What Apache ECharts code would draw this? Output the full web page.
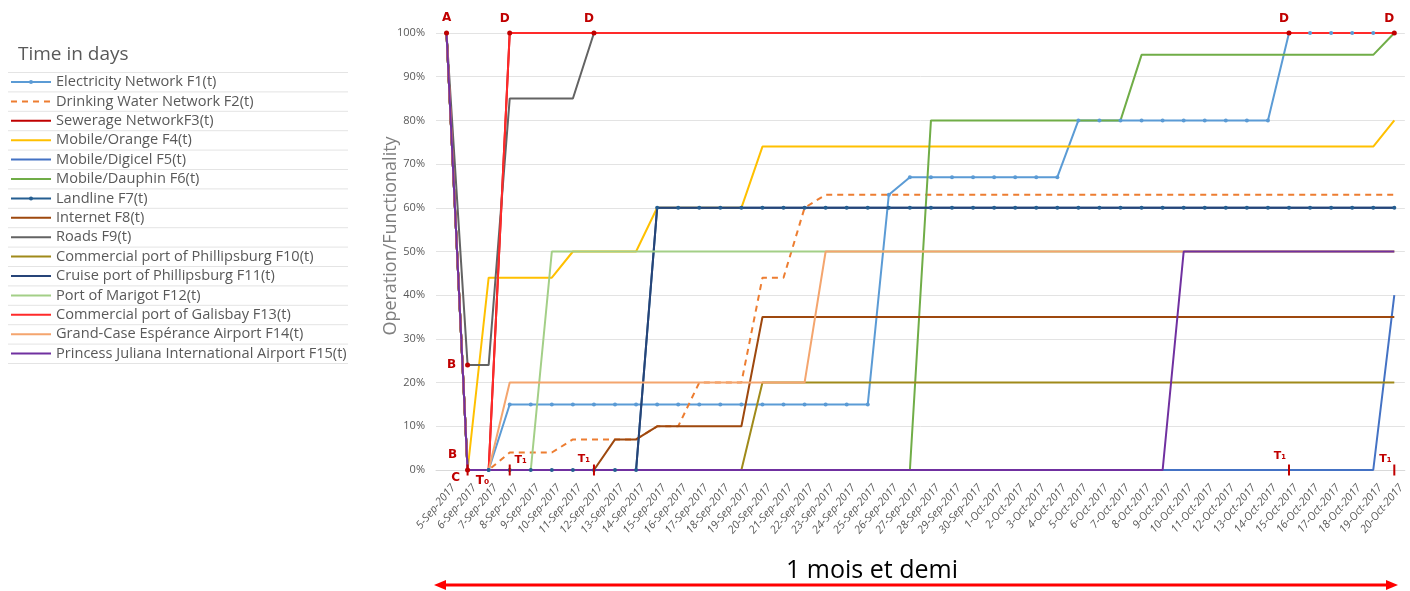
<!DOCTYPE html>
<html>
<head>
<meta charset="utf-8">
<script src="https://cdn.jsdelivr.net/npm/echarts@6/dist/echarts.min.js"></script>
<style>
html,body{margin:0;padding:0;background:#fff;}
#chart{width:1410px;height:591px;}
</style>
</head>
<body>
<div id="chart"></div>
<script>
const dates = ['5-Sep-2017','6-Sep-2017','7-Sep-2017','8-Sep-2017','9-Sep-2017','10-Sep-2017','11-Sep-2017','12-Sep-2017','13-Sep-2017','14-Sep-2017','15-Sep-2017','16-Sep-2017','17-Sep-2017','18-Sep-2017','19-Sep-2017','20-Sep-2017','21-Sep-2017','22-Sep-2017','23-Sep-2017','24-Sep-2017','25-Sep-2017','26-Sep-2017','27-Sep-2017','28-Sep-2017','29-Sep-2017','30-Sep-2017','1-Oct-2017','2-Oct-2017','3-Oct-2017','4-Oct-2017','5-Oct-2017','6-Oct-2017','7-Oct-2017','8-Oct-2017','9-Oct-2017','10-Oct-2017','11-Oct-2017','12-Oct-2017','13-Oct-2017','14-Oct-2017','15-Oct-2017','16-Oct-2017','17-Oct-2017','18-Oct-2017','19-Oct-2017','20-Oct-2017'];

const yTicks = [0,10,20,30,40,50,60,70,80,90,100];

const F1  = [100,0,0,15,15,15,15,15,15,15,15,15,15,15,15,15,15,15,15,15,15,63,67,67,67,67,67,67,67,67,80,80,80,80,80,80,80,80,80,80,100,100,100,100,100,100];
const F2  = [100,0,0,4,4,4,7,7,7,7,10,10,20,20,20,44,44,60,63,63,63,63,63,63,63,63,63,63,63,63,63,63,63,63,63,63,63,63,63,63,63,63,63,63,63,63];
const F3  = [100,0,0,100,100,100,100,100,100,100,100,100,100,100,100,100,100,100,100,100,100,100,100,100,100,100,100,100,100,100,100,100,100,100,100,100,100,100,100,100,100,100,100,100,100,100];
const F4  = [100,0,44,44,44,44,50,50,50,50,60,60,60,60,60,74,74,74,74,74,74,74,74,74,74,74,74,74,74,74,74,74,74,74,74,74,74,74,74,74,74,74,74,74,74,80];
const F5  = [100,0,0,0,0,0,0,0,0,0,0,0,0,0,0,0,0,0,0,0,0,0,0,0,0,0,0,0,0,0,0,0,0,0,0,0,0,0,0,0,0,0,0,0,0,40];
const F6  = [100,0,0,0,0,0,0,0,0,0,0,0,0,0,0,0,0,0,0,0,0,0,0,80,80,80,80,80,80,80,80,80,80,95,95,95,95,95,95,95,95,95,95,95,95,100];
const F7  = [100,0,0,0,0,0,0,0,0,0,60,60,60,60,60,60,60,60,60,60,60,60,60,60,60,60,60,60,60,60,60,60,60,60,60,60,60,60,60,60,60,60,60,60,60,60];
const F8  = [100,0,0,0,0,0,0,0,7,7,10,10,10,10,10,35,35,35,35,35,35,35,35,35,35,35,35,35,35,35,35,35,35,35,35,35,35,35,35,35,35,35,35,35,35,35];
const F9  = [100,24,24,85,85,85,85,100,100,100,100,100,100,100,100,100,100,100,100,100,100,100,100,100,100,100,100,100,100,100,100,100,100,100,100,100,100,100,100,100,100,100,100,100,100,100];
const F10 = [100,0,0,0,0,0,0,0,0,0,0,0,0,0,0,20,20,20,20,20,20,20,20,20,20,20,20,20,20,20,20,20,20,20,20,20,20,20,20,20,20,20,20,20,20,20];
const F11 = [100,0,0,0,0,0,0,0,0,0,60,60,60,60,60,60,60,60,60,60,60,60,60,60,60,60,60,60,60,60,60,60,60,60,60,60,60,60,60,60,60,60,60,60,60,60];
const F12 = [100,0,0,0,0,50,50,50,50,50,50,50,50,50,50,50,50,50,50,50,50,50,50,50,50,50,50,50,50,50,50,50,50,50,50,50,50,50,50,50,50,50,50,50,50,50];
const F13 = [100,0,0,100,100,100,100,100,100,100,100,100,100,100,100,100,100,100,100,100,100,100,100,100,100,100,100,100,100,100,100,100,100,100,100,100,100,100,100,100,100,100,100,100,100,100];
const F14 = [100,0,0,20,20,20,20,20,20,20,20,20,20,20,20,20,20,20,50,50,50,50,50,50,50,50,50,50,50,50,50,50,50,50,50,50,50,50,50,50,50,50,50,50,50,50];
const F15 = [100,0,0,0,0,0,0,0,0,0,0,0,0,0,0,0,0,0,0,0,0,0,0,0,0,0,0,0,0,0,0,0,0,0,0,50,50,50,50,50,50,50,50,50,50,50];

const seriesNames = ['Electricity Network F1(t)','Drinking Water Network F2(t)','Sewerage NetworkF3(t)','Mobile/Orange F4(t)','Mobile/Digicel F5(t)','Mobile/Dauphin F6(t)','Landline F7(t)','Internet F8(t)','Roads F9(t)','Commercial port of Phillipsburg F10(t)','Cruise port of Phillipsburg F11(t)','Port of Marigot F12(t)','Commercial port of Galisbay F13(t)','Grand-Case Espérance Airport F14(t)','Princess Juliana International Airport F15(t)'];
const seriesValues = [F1,F2,F3,F4,F5,F6,F7,F8,F9,F10,F11,F12,F13,F14,F15];

// annotation points (letters / T marks)
const dotMarks = [
  {text:'A', date:'5-Sep-2017',  value:100},
  {text:'D', date:'8-Sep-2017',  value:100},
  {text:'D', date:'12-Sep-2017', value:100},
  {text:'D', date:'15-Oct-2017', value:100},
  {text:'D', date:'20-Oct-2017', value:100},
  {text:'B', date:'6-Sep-2017',  value:24},
  {text:'C', date:'6-Sep-2017',  value:0}
];
const extraLabels = [
  {text:'B', date:'6-Sep-2017', value:0},
  {text:'T₀', date:'6-Sep-2017', value:0}
];
const tMarks = [
  {text:'', date:'6-Sep-2017', value:0},
  {text:'T₁', date:'8-Sep-2017', value:0},
  {text:'T₁', date:'12-Sep-2017', value:0},
  {text:'T₁', date:'15-Oct-2017', value:0},
  {text:'T₁', date:'20-Oct-2017', value:0}
];

const colors = ['#5B9BD5','#ED7D31','#C00000','#FFC000','#4472C4','#70AD47','#255E91','#9E480E','#636363','#A08A1A','#264478','#A3CF87','#FF2A2A','#F4A56E','#7030A0'];

const RED = '#C00000';
const labelStyle = {show:true, color:RED, fontSize:12, fontWeight:'bold', fontFamily:'DejaVu Sans'};

const dotOffsets = {'A':[0,-15],'D':[-5,-14],'B':[-16,0],'C':[-12,8]};
const markData = [];
dotMarks.forEach(function(m){
  markData.push({coord:[m.date,m.value], symbol:'circle', symbolSize:5,
    itemStyle:{color:RED},
    label:Object.assign({}, labelStyle, {formatter:m.text, position:'inside', offset:dotOffsets[m.text]})});
});
const extraOffsets = [[-15,-15],[15,11]];
extraLabels.forEach(function(m,i){
  markData.push({coord:[m.date,m.value], symbol:'circle', symbolSize:0,
    label:Object.assign({}, labelStyle, {formatter:m.text, position:'inside', offset:extraOffsets[i]})});
});
const tOffsets = [[0,0],[11,-10],[-10,-11],[-9,-14],[-9,-11]];
tMarks.forEach(function(m,i){
  markData.push({coord:[m.date,m.value], symbol:'rect', symbolSize:[2,11],
    itemStyle:{color:RED},
    label:Object.assign({}, labelStyle, {formatter:m.text, position:'inside', offset:tOffsets[i], fontSize:11})});
});

const series = seriesNames.map(function(name,i){
  const withMarker = (i===0 || i===6);
  const s = {
    name:name, type:'line', data:seriesValues[i],
    symbol: withMarker ? 'circle' : 'none',
    symbolSize: 4, showSymbol: withMarker,
    lineStyle:{width:2, color:colors[i], type: i===1 ? [6,5] : 'solid'},
    itemStyle:{color:colors[i]},
    animation:false
  };
  if (i===14) {
    s.markPoint = {data:markData, animation:false, z:10};
  }
  return s;
});

const legendData = seriesNames.map(function(name,i){
  const withMarker = (i===0 || i===6);
  return withMarker ? {name:name} : {name:name, itemStyle:{opacity:0}};
});

const graphics = [];
for (let k=0;k<16;k++){
  graphics.push({type:'line', shape:{x1:8,y1:72.5+19.4*k,x2:348,y2:72.5+19.4*k}, style:{stroke:'#E4E4E4',lineWidth:1}, silent:true});
}
// y-axis title
graphics.push({type:'text', x:391, y:236, rotation:Math.PI/2, style:{text:'Operation/Functionality', fill:'#7F7F7F', font:'18px "Open Sans"', align:'center', verticalAlign:'middle'}});
// bottom arrow
graphics.push({type:'line', shape:{x1:444,y1:585,x2:1388,y2:585}, style:{stroke:'#FF0000',lineWidth:3}});
graphics.push({type:'polygon', shape:{points:[[434,585],[446,580],[446,590]]}, style:{fill:'#FF0000'}});
graphics.push({type:'polygon', shape:{points:[[1398,585],[1386,580],[1386,590]]}, style:{fill:'#FF0000'}});
graphics.push({type:'text', x:872, y:571, style:{text:'1 mois et demi', fill:'#000', font:'25px "Open Sans"', align:'center', verticalAlign:'middle'}});

const chart = echarts.init(document.getElementById('chart'), null, {renderer:'canvas'});
chart.setOption({
  animation:false,
  backgroundColor:'#fff',
  color:colors,
  title:{text:'Time in days', left:18, top:45, padding:0, textStyle:{fontSize:19, fontWeight:'normal', color:'#595959', fontFamily:'Open Sans'}},
  legend:{orient:'vertical', left:10, top:74, padding:0, itemWidth:40, itemHeight:5, itemGap:3.4,
    textStyle:{fontSize:14.6, lineHeight:16, color:'#595959', fontFamily:'Open Sans'},
    data:legendData},
  grid:{left:436, right:3, top:33, bottom:121, containLabel:false},
  xAxis:{type:'category', data:dates, boundaryGap:true,
    axisLine:{show:true, lineStyle:{color:'#D9D9D9'}},
    axisTick:{show:false},
    axisLabel:{interval:0, rotate:50, fontSize:11, color:'#595959', fontFamily:'Open Sans', margin:10, fontStyle:'italic', verticalAlign:'top', lineHeight:18}},
  yAxis:{type:'value', min:yTicks[0], max:yTicks[yTicks.length-1], interval:10,
    axisLine:{show:false}, axisTick:{show:false},
    axisLabel:{formatter:'{value}%', fontSize:11, color:'#595959', fontFamily:'Open Sans', margin:11},
    splitLine:{lineStyle:{color:'#E3E3E3', width:1}}},
  series:series,
  graphic:graphics
});
</script>
</body>
</html>
